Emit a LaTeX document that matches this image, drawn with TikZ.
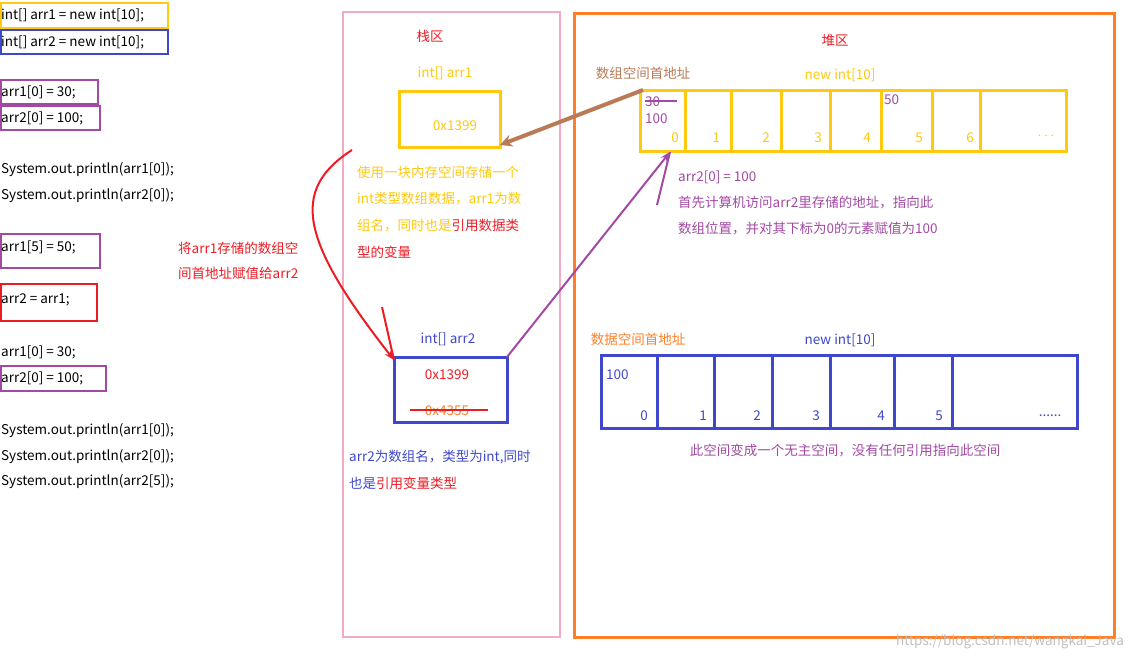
\documentclass[tikz,border=0pt]{standalone}
\usepackage{fontspec}
\setmainfont{Noto Sans CJK SC}
\usetikzlibrary{arrows.meta}
\definecolor{yel}{HTML}{FFC90E}
\definecolor{blu}{HTML}{3F48CC}
\definecolor{pur}{HTML}{A349A4}
\definecolor{rd}{HTML}{ED1C24}
\definecolor{pnk}{HTML}{F5A9C8}
\definecolor{org}{HTML}{FF7F27}
\definecolor{brn}{HTML}{B97A57}
\begin{document}
\begin{tikzpicture}[x=1pt,y=-1pt,
  every node/.style={font=\fontsize{13.5}{15}\selectfont,inner sep=0pt},
  code/.style={anchor=west,text=black},
  cbox/.style={line width=2.2pt},
  lbl/.style={anchor=west}]
\useasboundingbox (0,0) rectangle (1143,661);
% code column
\draw[cbox,yel] (1,3) rectangle (168,28);
\draw[cbox,blu] (1,30) rectangle (168,54);
\draw[cbox,pur] (1,80) rectangle (98,104);
\draw[cbox,pur] (1,106) rectangle (100,130);
\draw[cbox,pur] (1,234) rectangle (100,268);
\draw[cbox,rd] (1,284) rectangle (97,321);
\draw[cbox,pur] (1,366) rectangle (106,391);
\node[code] (c1) at (1,15) {int[] arr1 = new int[10];};
\node[code] (c2) at (1,42) {int[] arr2 = new int[10];};
\node[code] (c3) at (1,92) {arr1[0] = 30;};
\node[code] (c4) at (1,118) {arr2[0] = 100;};
\node[code] (c5) at (1,170) {System.out.println(arr1[0]);};
\node[code] (c6) at (1,196) {System.out.println(arr2[0]);};
\node[code] (c7) at (1,247) {arr1[5] = 50;};
\node[code] (c8) at (1,300) {arr2 = arr1;};
\node[code] (c9) at (1,352) {arr1[0] = 30;};
\node[code] (c10) at (1,378) {arr2[0] = 100;};
\node[code] (c11) at (1,431) {System.out.println(arr1[0]);};
\node[code] (c12) at (1,457) {System.out.println(arr2[0]);};
\node[code] (c13) at (1,482) {System.out.println(arr2[5]);};
\node[lbl,text=rd] (r1) at (178,248) {将arr1存储的数组空};
\node[lbl,text=rd] (r2) at (178,273) {间首地址赋值给arr2};
% stack
\draw[pnk,line width=2.5pt] (343,12) rectangle (560,637);
\node[text=rd] (stk) at (430,36) {栈区};
\node[text=yel] (a1lab) at (445,73) {int[] arr1};
\draw[yel,line width=3pt] (399,91) rectangle (500,147);
\coordinate (b1e) at (500,145);
\node[text=yel] (v1) at (455,126) {0x1399};
\node[lbl,text=yel] (t1) at (357,172) {使用一块内存空间存储一个};
\node[lbl,text=yel] (t2) at (357,199) {int类型数组数据，arr1为数};
\node[lbl,text=yel] (t3) at (357,226) {组名，同时也是\textcolor{rd}{引用数据类}};
\node[lbl,text=rd] (t4) at (357,252) {型的变量};
\node[text=blu] (a2lab) at (448,339) {int[] arr2};
\draw[blu,line width=3pt] (394,357) rectangle (507,422);
\coordinate (b2nw) at (394,360);
\coordinate (b2ne) at (507,357);
\node[text=rd] (v2) at (447,375) {0x1399};
\node[text=org] (v3) at (447,411) {0x4355};
\draw[rd,line width=2pt] (410,410) -- (488,410);
\node[lbl,text=blu] (t5) at (349,457) {arr2为数组名，类型为int,同时};
\node[lbl,text=blu] (t6) at (349,483) {也是\textcolor{rd}{引用变量类型}};
% heap
\draw[org,line width=3pt] (574,14) rectangle (1114,637);
\node[text=rd] (heap) at (835,40) {堆区};
\node[text=brn] (addr1) at (643,73) {数组空间首地址};
\node[text=yel] (new1) at (840,75) {new int[10]};
\draw[yel,line width=3pt] (640,90) rectangle (1066,151);
\foreach \x in {685,731,781,830,881,932,980} \draw[yel,line width=3pt] (\x,90) -- (\x,151);
\coordinate (arr1nw) at (643,90);
\coordinate (cell0) at (670,152);
\foreach \x/\t in {675/0,716/1,766/2,818/3,867/4,919/5,970/6}
  \node[text=yel] at (\x,138) {\t};
\node[text=yel] (dots1) at (1046,136) {$\cdots$};
\node[lbl,text=pur] (v30) at (645,102) {30};
\draw[pur,line width=2pt] (645,101) -- (677,101);
\node[lbl,text=pur] (v100) at (645,119) {100};
\node[lbl,text=pur] (v50) at (884,100) {50};
\node[lbl,text=pur] (p1) at (678,177) {arr2[0] = 100};
\node[lbl,text=pur] (p2) at (678,203) {首先计算机访问arr2里存储的地址，指向此};
\node[lbl,text=pur] (p3) at (678,229) {数组位置，并对其下标为0的元素赋值为100};
\node[text=org] (addr2) at (638,339) {数据空间首地址};
\node[text=blu] (new2) at (840,340) {new int[10]};
\draw[blu,line width=3pt] (601,355) rectangle (1077,428);
\foreach \x in {657,714,772,830,894,952} \draw[blu,line width=3pt] (\x,355) -- (\x,428);
\foreach \x/\t in {644/0,703/1,757/2,816/3,881/4,939/5}
  \node[text=blu] at (\x,416) {\t};
\node[text=blu] (dots2) at (1050,416) {......};
\node[lbl,text=blu] (w100) at (606,375) {100};
\node[text=pur] (cap) at (845,450) {此空间变成一个无主空间，没有任何引用指向此空间};
\node[text=gray!50] (wm) at (1010,642) {https://blog.csdn.net/wangkai\_Java};
% connectors
\draw[brn,line width=4pt,-{Stealth[length=12pt,width=12pt]}] (arr1nw) -- (b1e);
\draw[pur,line width=2pt,-{Stealth[length=10pt]}] (b2ne) -- (cell0);
\draw[pur,line width=2pt] (657,205) -- (cell0);
\draw[rd,line width=2pt,-{Stealth[length=10pt]}] (352,150) .. controls (290,190) and (300,240) .. (b2nw);
\draw[rd,line width=2pt] (382,307) -- (b2nw);
\end{tikzpicture}
\end{document}
